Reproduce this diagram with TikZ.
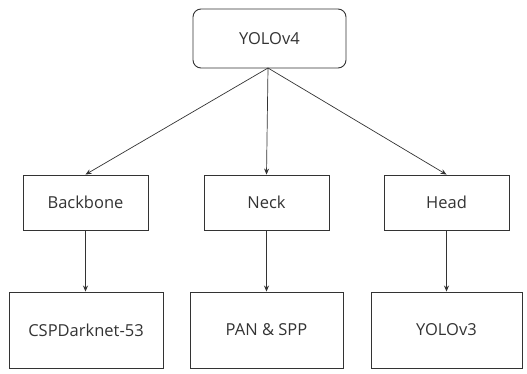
\documentclass[tikz,border=0pt]{standalone}
\usepackage{fontspec}
\setmainfont{Open Sans}
\usetikzlibrary{arrows.meta}
\definecolor{ln}{HTML}{333333}
\begin{document}
\begin{tikzpicture}[x=1pt,y=1pt,
  box/.style={draw=ln, line width=0.9pt, text=ln, font=\fontsize{16.5}{19}\selectfont, inner sep=0pt},
  arr/.style={draw=ln, line width=0.7pt, -{Stealth[length=6pt,width=5pt]}}]
\useasboundingbox (0,0) rectangle (527,373);
\node[box, rounded corners=8pt, minimum width=153pt, minimum height=59pt] (yolo) at (269.5,334.5) {YOLOv4};
\node[box, minimum width=125pt, minimum height=55pt] (bb) at (85.5,170.5) {Backbone};
\node[box, minimum width=125pt, minimum height=55pt] (neck) at (266.5,170.5) {Neck};
\node[box, minimum width=125pt, minimum height=55pt] (head) at (446.5,170.5) {Head};
\node[box, minimum width=154pt, minimum height=76pt] (csp) at (86,43) {CSPDarknet-53};
\node[box, minimum width=153pt, minimum height=76pt] (pan) at (266.5,43) {PAN \& SPP};
\node[box, minimum width=151pt, minimum height=76pt] (v3) at (446.5,43) {YOLOv3};
\coordinate (src) at (268,305);
\draw[arr] (src) -- (bb.north);
\draw[arr] (src) -- (neck.north);
\draw[arr] (src) -- (head.north);
\draw[arr] (bb.south) -- (csp.north -| bb.south);
\draw[arr] (neck.south) -- (pan.north -| neck.south);
\draw[arr] (head.south) -- (v3.north -| head.south);
\end{tikzpicture}
\end{document}
